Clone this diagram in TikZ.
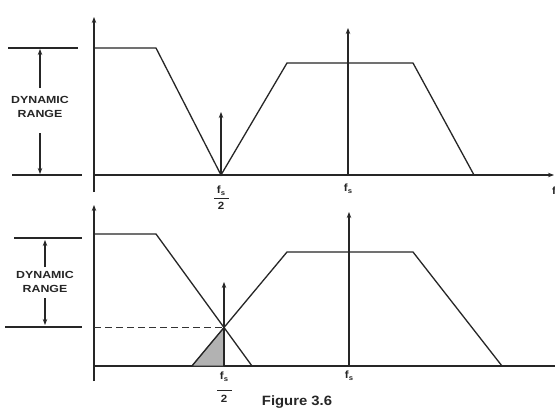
\documentclass[tikz,border=0pt]{standalone}
\usepackage{fontspec}
\newfontfamily\lblfont[FakeStretch=1.2]{Liberation Sans Bold}
\newfontfamily\capfont[FakeStretch=1.1]{Liberation Sans Bold}
\usetikzlibrary{arrows.meta}
\begin{document}
\begin{tikzpicture}[x=1pt,y=-1pt,
  ln/.style={line width=1.3pt,draw=black!85},
  ax/.style={line width=1.3pt,draw=black!85},
  arr/.style={-{Stealth[length=6pt,width=4.5pt]}},
  dr/.style={line width=1.1pt,draw=black!85},
  lbl/.style={font=\lblfont\fontsize{10.3}{11}\selectfont,inner sep=0pt,text=black!85},
  fsl/.style={font=\capfont\fontsize{10.5}{11}\selectfont,inner sep=0pt,text=black!85}]
\useasboundingbox (0,0) rectangle (555,410);
\fill[white] (0,0) rectangle (555,410);
% ---------------- top panel ----------------
\coordinate (ty0) at (94,192); \coordinate (ty1) at (94,17);
\coordinate (tx0) at (94,175); \coordinate (tx1) at (554,175);
\draw[ax,arr] (ty0) -- (ty1);
\draw[ax,arr] (tx0) -- (tx1);
\coordinate (a1) at (94,48); \coordinate (a2) at (156,48);
\coordinate (a3) at (221,175); \coordinate (a4) at (287,63);
\coordinate (a5) at (413,63); \coordinate (a6) at (474,175);
\draw[ln,line join=miter] (a1) -- (a2) -- (a3) -- (a4) -- (a5) -- (a6);
\coordinate (h1) at (221,112);
\draw[ln,arr] (a3) -- (h1);
\coordinate (s0) at (348,175); \coordinate (s1) at (348,28);
\draw[ln,arr] (s0) -- (s1);
\node[fsl] (tfh) at (221,191) {f\raisebox{-2pt}{\fontsize{7}{7}\selectfont s}};
\coordinate (tfl0) at (214,198); \coordinate (tfl1) at (229,198);
\draw[line width=0.9pt,black!85] (tfl0) -- (tfl1);
\node[fsl] (tf2) at (221,206) {2};
\node[fsl] (tfs) at (348,189) {f\raisebox{-2pt}{\fontsize{7}{7}\selectfont s}};
\node[fsl,anchor=west] (tf) at (552,191) {f};
% dynamic range
\coordinate (d1a) at (8,48); \coordinate (d1b) at (78,48);
\coordinate (d2a) at (12,175); \coordinate (d2b) at (82,175);
\draw[dr] (d1a) -- (d1b); \draw[dr] (d2a) -- (d2b);
\node[lbl] (tdr1) at (40,100) {DYNAMIC};
\node[lbl] (tdr2) at (40,114) {RANGE};
\coordinate (u0) at (40,88); \coordinate (u1) at (40,49);
\coordinate (v0) at (40,133); \coordinate (v1) at (40,174);
\draw[dr,arr] (u0) -- (u1);
\draw[dr,arr] (v0) -- (v1);
% ---------------- bottom panel ----------------
\coordinate (by0) at (94,381); \coordinate (by1) at (94,205);
\coordinate (bx0) at (94,366); \coordinate (bx1) at (555,366);
\draw[ax,arr] (by0) -- (by1);
\draw[ax] (bx0) -- (bx1);
\coordinate (b1) at (94,234); \coordinate (b2) at (156,234);
\coordinate (b3) at (252,366);
\coordinate (c1) at (191.9,366); \coordinate (c2) at (287,252);
\coordinate (c3) at (413,252); \coordinate (c4) at (502,366);
\coordinate (x) at (224,327.5); \coordinate (xb) at (224,366);
\coordinate (xd) at (94,327.5);
\fill[gray!60,draw=black!85,line width=0.8pt] (c1) -- (x) -- (xb) -- cycle;
\draw[ln,line join=miter] (b1) -- (b2) -- (b3);
\draw[ln,line join=miter] (c1) -- (c2) -- (c3) -- (c4);
\draw[line width=1pt,black!80,dash pattern=on 7pt off 4pt] (xd) -- (x);
\coordinate (xa) at (224,282);
\draw[ln,arr] (xb) -- (xa);
\coordinate (bs0) at (349,366); \coordinate (bs1) at (349,212);
\draw[ln,arr] (bs0) -- (bs1);
\node[fsl] (bfh) at (224,377) {f\raisebox{-2pt}{\fontsize{7}{7}\selectfont s}};
\coordinate (bfl0) at (217,390); \coordinate (bfl1) at (232,390);
\draw[line width=0.9pt,black!85] (bfl0) -- (bfl1);
\node[fsl] (bf2) at (224,399) {2};
\node[fsl] (bfs) at (349,376) {f\raisebox{-2pt}{\fontsize{7}{7}\selectfont s}};
% dynamic range
\coordinate (e1a) at (14,238); \coordinate (e1b) at (82,238);
\coordinate (e2a) at (5,327); \coordinate (e2b) at (82,327);
\draw[dr] (e1a) -- (e1b); \draw[dr] (e2a) -- (e2b);
\node[lbl] (bdr1) at (45,275) {DYNAMIC};
\node[lbl] (bdr2) at (45,289) {RANGE};
\coordinate (p0) at (45,267); \coordinate (p1) at (45,240);
\coordinate (q0) at (45,298); \coordinate (q1) at (45,325);
\draw[dr,arr] (p0) -- (p1);
\draw[dr,arr] (q0) -- (q1);
\node[font=\capfont\fontsize{13.5}{15}\selectfont,inner sep=0pt,text=black!85] (fig) at (297,402) {Figure 3.6};
\end{tikzpicture}
\end{document}
